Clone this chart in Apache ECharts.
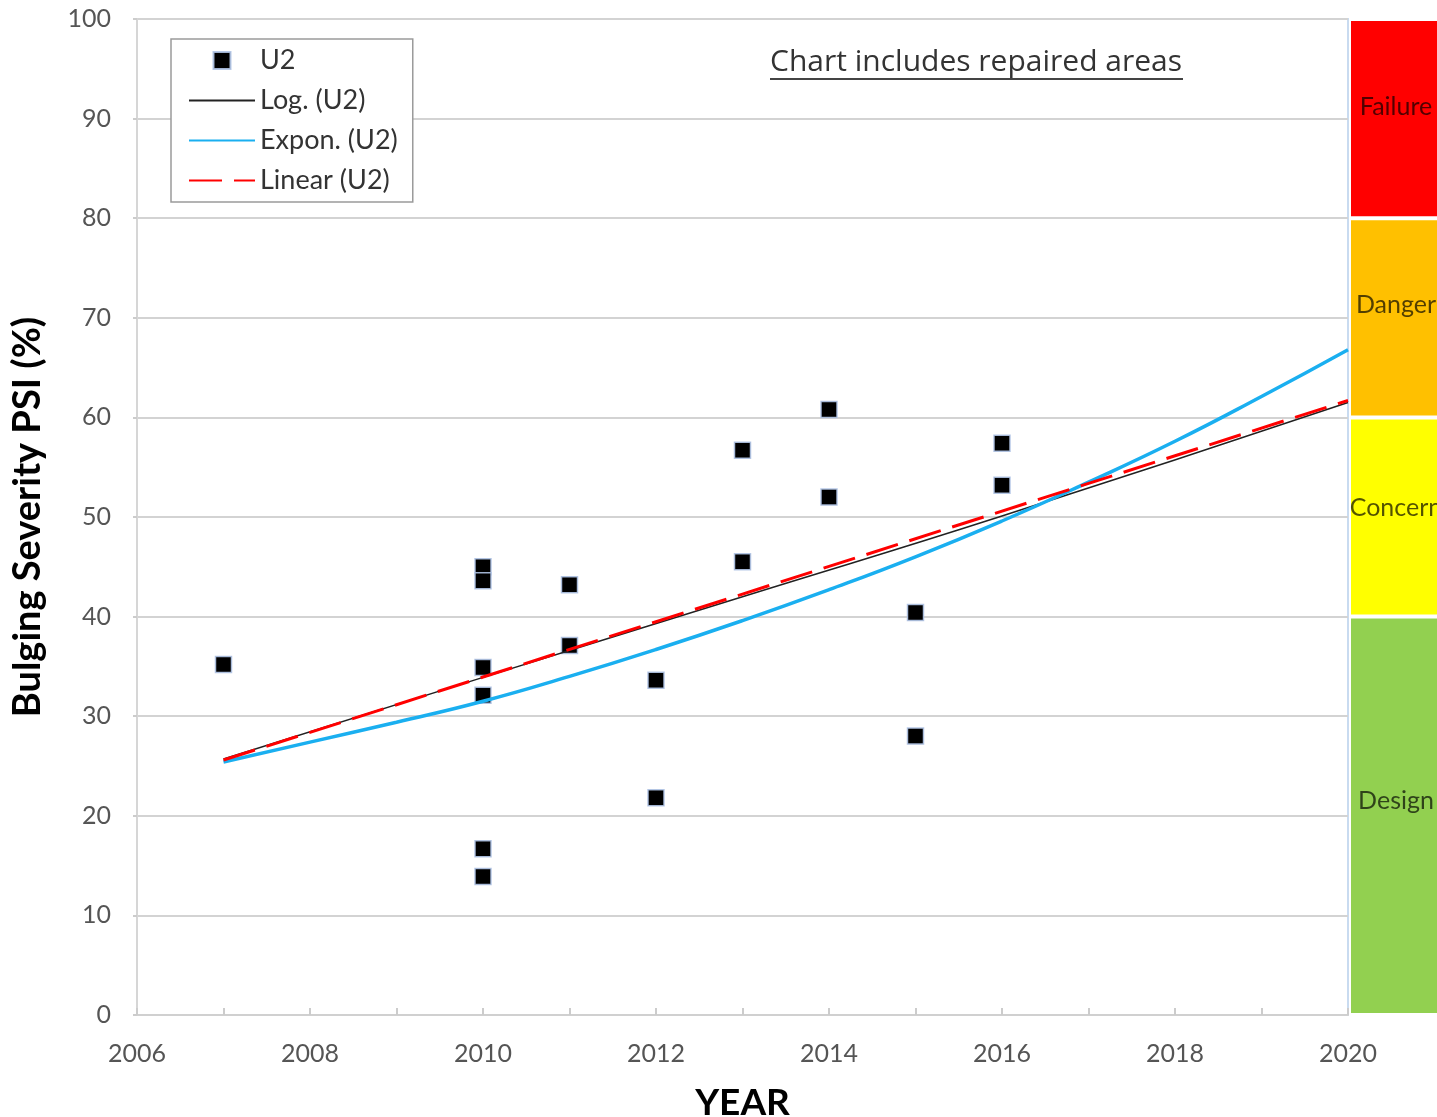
<!DOCTYPE html>
<html>
<head>
<meta charset="utf-8">
<title>Bulging Severity PSI</title>
<script src="https://cdn.jsdelivr.net/npm/echarts@6/dist/echarts.min.js"></script>
<style>
  html, body { margin: 0; padding: 0; background: #fff; }
  #chart { width: 1437px; height: 1117px; }
</style>
</head>
<body>
<div id="chart"></div>
<script>
// Measured bulging severity (U2), one entry per inspection
const u2Years  = [2007, 2010, 2010, 2010, 2010, 2010, 2010, 2011, 2011, 2012, 2012, 2013, 2013, 2014, 2014, 2015, 2015, 2016, 2016];
const u2Values = [35.2, 45.0, 43.6, 34.9, 32.1, 16.7, 13.9, 43.2, 37.1, 33.6, 21.8, 56.7, 45.5, 60.8, 52.0, 40.4, 28.0, 57.4, 53.2];

// Trend lines fitted to U2
const linearYears  = [2007, 2020];
const linearValues = [25.6, 61.7];
const logYears     = [2007, 2010, 2013, 2016, 2020];
const logValues    = [25.7, 33.9, 42.0, 50.1, 61.5];
const expYears     = [2007, 2008, 2009, 2010, 2011, 2012, 2013, 2014, 2015, 2016, 2017, 2018, 2019, 2020];
const expValues    = [25.4, 27.4, 29.4, 31.5, 34.0, 36.7, 39.6, 42.7, 46.0, 49.6, 53.5, 57.6, 62.1, 66.8];

// Severity bands (lower/upper limits in %)
const bandNames  = ['Design', 'Concern', 'Danger', 'Failure'];
const bandLimits = [0, 40, 60, 80, 100];
const bandColors = ['#92d050', '#ffff00', '#ffc000', '#ff0000'];

// Axis ranges and ticks
const yearMin = 2006, yearMax = 2020, yearStep = 1, yearLabelStep = 2;
const yMin = 0, yMax = 100, yStep = 10;

const FONT = 'Lato, "Noto Sans", sans-serif';
const TITLE_FONT = '"Open Sans", "Noto Sans", sans-serif';

const zip = (xs, ys) => xs.map((x, i) => [x, ys[i]]);

const bandLabelOffsetY = [-15, -9, -13, -12];

const bandSeries = bandNames.map((name, i) => ({
  name: name,
  type: 'bar',
  xAxisIndex: 1,
  yAxisIndex: 1,
  stack: 'bands',
  barWidth: '100%',
  silent: true,
  data: [bandLimits[i + 1] - bandLimits[i]],
  itemStyle: { color: bandColors[i], borderColor: '#ffffff', borderWidth: 2, opacity: 1 },
  label: {
    show: true,
    position: 'inside',
    offset: [-3, bandLabelOffsetY[i]],
    formatter: name,
    fontFamily: FONT,
    fontSize: 25,
    color: 'rgba(0,0,0,0.68)'
  }
}));

// Trend-line legend entries show only the stroke, no point symbol
const lineLegendStyle = { opacity: 0 };

const chart = echarts.init(document.getElementById('chart'), null, { renderer: 'canvas' });

chart.setOption({
  animation: false,
  backgroundColor: '#ffffff',
  textStyle: { fontFamily: FONT },
  grid: [
    { left: 137, right: 89, top: 19, bottom: 102, containLabel: false, outerBoundsMode: 'none',
      show: true, borderColor: '#c9dbf0', borderWidth: 2 },
    { left: 1349, width: 100, top: 19, bottom: 102, containLabel: false, outerBoundsMode: 'none' }
  ],
  legend: {
    orient: 'vertical',
    left: 171,
    top: 39,
    padding: [8, 15, 8, 17],
    itemGap: 13,
    itemWidth: 66,
    itemHeight: 17,
    borderColor: '#9a9a9a',
    borderWidth: 1.5,
    backgroundColor: '#ffffff',
    textStyle: { fontFamily: FONT, fontSize: 27, color: '#333333' },
    data: [
      { name: 'U2', icon: 'path://M0,0L10,0L10,10L0,10Z' },
      { name: 'Log. (U2)', itemStyle: lineLegendStyle },
      { name: 'Expon. (U2)', itemStyle: lineLegendStyle },
      { name: 'Linear (U2)', itemStyle: lineLegendStyle }
    ]
  },
  graphic: [
    {
      type: 'group',
      left: 770,
      top: 47,
      children: [
        {
          type: 'text',
          left: 0, top: 0,
          style: { text: 'Chart includes repaired areas', font: '30px ' + TITLE_FONT, fill: '#333333' }
        },
        {
          type: 'rect',
          left: 0, top: 31,
          shape: { width: 413, height: 2 },
          style: { fill: '#444444' }
        }
      ]
    }
  ],
  xAxis: [
    {
      type: 'value',
      min: yearMin,
      max: yearMax,
      interval: yearStep,
      name: 'YEAR',
      nameLocation: 'middle',
      nameGap: 70,
      nameTextStyle: { fontFamily: FONT, fontSize: 37, fontWeight: 'bold', color: '#000000' },
      axisLine: { show: true, lineStyle: { color: '#d0d0d0', width: 2 } },
      axisTick: { show: true, inside: true, length: 7, lineStyle: { color: '#cccccc', width: 2 } },
      splitLine: { show: false },
      axisLabel: {
        margin: 26,
        fontFamily: FONT,
        fontSize: 25,
        color: '#555555',
        formatter: v => ((v - yearMin) % yearLabelStep === 0 ? String(v) : '')
      }
    },
    { type: 'category', gridIndex: 1, data: ['band'], show: false }
  ],
  yAxis: [
    {
      type: 'value',
      min: yMin,
      max: yMax,
      interval: yStep,
      name: 'Bulging Severity PSI (%)',
      nameLocation: 'middle',
      nameGap: 90,
      nameTextStyle: { fontFamily: FONT, fontSize: 38, fontWeight: 'bold', color: '#000000' },
      axisLine: { show: true, lineStyle: { color: '#d6d6d6', width: 2 } },
      axisTick: { show: true, length: 4, lineStyle: { color: '#cccccc', width: 2 } },
      splitLine: { show: true, lineStyle: { color: '#d3d3d3', width: 2 } },
      axisLabel: { margin: 26, fontFamily: FONT, fontSize: 25, color: '#555555' }
    },
    { type: 'value', gridIndex: 1, min: yMin, max: yMax, show: false }
  ],
  series: [
    {
      name: 'U2',
      type: 'scatter',
      symbol: 'rect',
      symbolSize: 16,
      itemStyle: { color: '#000000', opacity: 1, borderColor: 'rgba(175,195,228,0.9)', borderWidth: 1.5 },
      data: zip(u2Years, u2Values),
      z: 2
    },
    {
      name: 'Log. (U2)',
      type: 'line',
      symbol: 'none',
      smooth: true,
      lineStyle: { color: '#222222', width: 1.5 },
      itemStyle: { color: '#222222' },
      data: zip(logYears, logValues),
      z: 3
    },
    {
      name: 'Expon. (U2)',
      type: 'line',
      symbol: 'none',
      smooth: true,
      lineStyle: { color: '#1aaff0', width: 3.5 },
      itemStyle: { color: '#1aaff0' },
      data: zip(expYears, expValues),
      z: 3
    },
    {
      name: 'Linear (U2)',
      type: 'line',
      symbol: 'none',
      lineStyle: { color: '#ff0000', width: 3, type: [33, 12] },
      itemStyle: { color: '#ff0000' },
      data: zip(linearYears, linearValues),
      z: 4
    }
  ].concat(bandSeries)
});
</script>
</body>
</html>
